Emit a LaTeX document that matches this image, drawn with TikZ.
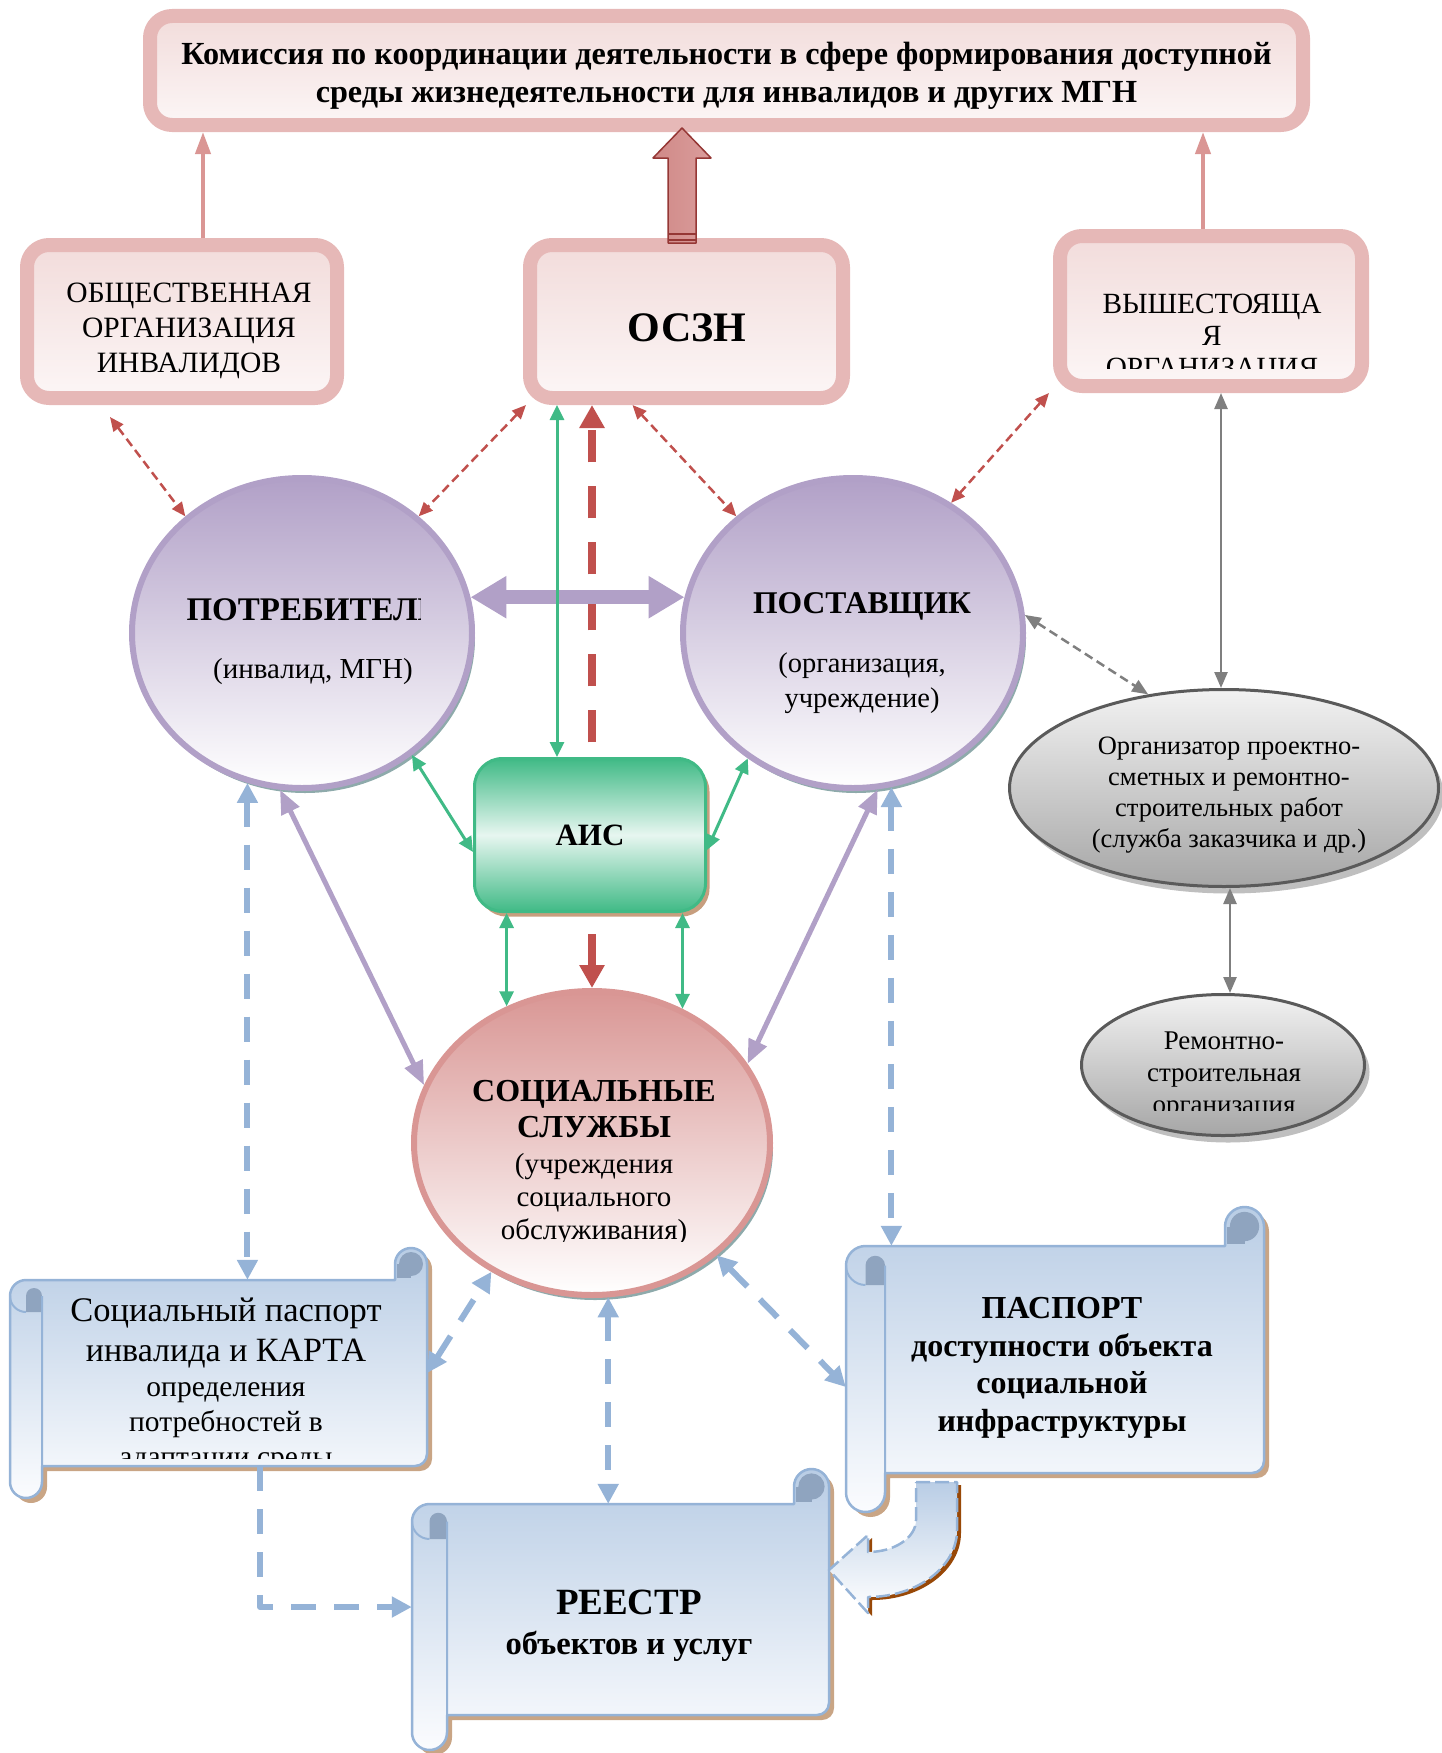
\documentclass[tikz,border=0pt]{standalone}
\usepackage{fontspec}
\setmainfont{Liberation Serif}
\usetikzlibrary{shapes.geometric,arrows.meta,shadows}

\definecolor{rozline}{HTML}{E6B8B7}
\definecolor{roztop}{HTML}{F2DCDB}
\definecolor{rozbot}{HTML}{FCF6F6}
\definecolor{rozarr}{HTML}{DA9694}
\definecolor{strel1}{HTML}{CF8987}
\definecolor{strel2}{HTML}{DB9D9C}
\definecolor{bordo}{HTML}{953735}
\definecolor{krasn}{HTML}{C0504D}
\definecolor{fiol}{HTML}{B1A0C7}
\definecolor{tenb}{HTML}{8EAAAB}
\definecolor{socline}{HTML}{D99694}
\definecolor{zel}{HTML}{40BA86}
\definecolor{zelsvet}{HTML}{E7F6F0}
\definecolor{korich}{HTML}{C79E7E}
\definecolor{sin}{HTML}{95B3D7}
\definecolor{sintop}{HTML}{B9CDE5}
\definecolor{sinbot}{HTML}{FBFCFE}
\definecolor{sincurl}{HTML}{8FA4BF}
\definecolor{tenkor}{HTML}{C9A585}
\definecolor{rzhav}{HTML}{984807}
\definecolor{ser}{HTML}{7F7F7F}
\definecolor{serdark}{HTML}{5A5A5A}
\definecolor{sertop}{HTML}{F2F2F2}
\definecolor{serbot}{HTML}{A6A6A6}
\definecolor{sershad}{HTML}{BFBFBF}

\newcommand\fsz[2]{\fontsize{#1}{#2}\selectfont}

% свиток: L R T B w
\newcommand\svitokpath{(\svL,\svB-\svC) -- (\svL,\svT+\svW+\svC) arc[start angle=180,end angle=270,radius=\svC] -- (\svR-\svW,\svT+\svW) -- (\svR-\svW,\svT+\svC) arc[start angle=180,end angle=360,radius=\svC] -- (\svR,\svB-\svW-12) arc[start angle=0,end angle=90,radius=12] -- (\svL+\svW,\svB-\svW) -- (\svL+\svW,\svB-\svC) arc[start angle=0,end angle=180,radius=\svC] -- cycle}
\newcommand\svitok[5]{%
  \pgfmathsetmacro\svL{#1}\pgfmathsetmacro\svR{#2}\pgfmathsetmacro\svT{#3}\pgfmathsetmacro\svB{#4}%
  \pgfmathsetmacro\svW{#5}\pgfmathsetmacro\svC{#5/2}%
  \fill[tenkor, shift={(5,5)}] \svitokpath;
  \path[top color=sintop, bottom color=sinbot] \svitokpath;
  \fill[sincurl] (\svL+\svC,\svT+\svW+\svC) arc[start angle=180,end angle=360,radius=\svC/2] -- (\svL+\svW,\svT+2*\svW) -- (\svL+\svC,\svT+2*\svW) -- cycle;
  \fill[sincurl] (\svR-\svC,\svT+\svC) circle[radius=0.75*\svC];
  \fill[sincurl] (\svR-\svW+2,\svT+\svC) rectangle (\svR-\svC,\svT+\svW-2);
  \draw[sin, line width=2.5pt] \svitokpath;
  \draw[sin, line width=2pt] (\svL+\svW,\svT+\svW+\svC) -- (\svL+\svW,\svB-\svW)
    (\svL+\svC,\svT+2*\svW) arc[start angle=90,end angle=180,radius=\svC];
}
\newcommand\gnutaya{(916,1482) -- (957,1482) -- (957,1530) arc[start angle=0,end angle=90,x radius=89,y radius=67] -- (868,1613) -- (829,1570) -- (868,1535) -- (868,1552) arc[start angle=90,end angle=0,x radius=48,y radius=32] -- cycle}

\tikzset{
  rozbox/.style={draw=rozline, line width=14pt, rounded corners=22pt, top color=roztop, bottom color=rozbot, inner sep=0pt},
  krug/.style={ellipse, draw=fiol, line width=6pt, top color=fiol, bottom color=white, inner sep=0pt, minimum width=340pt, minimum height=310pt,
    drop shadow={shadow xshift=3pt, shadow yshift=-5pt, fill=tenb, opacity=1}},
  sockrug/.style={krug, draw=socline, top color=socline, minimum width=356pt, minimum height=304pt},
  serkrug/.style={ellipse, draw=serdark, line width=3pt, top color=sertop, bottom color=serbot, inner sep=0pt,
    drop shadow={shadow xshift=5pt, shadow yshift=-7pt, fill=sershad, opacity=1}},
  aisbox/.style={draw=zel, line width=3pt, rounded corners=28pt, top color=zel, bottom color=zel, middle color=zelsvet,
    drop shadow={shadow xshift=4pt, shadow yshift=-5pt, fill=korich, opacity=1}},
  sheet/.style={inner sep=0pt, align=center},
  tekst/.style={inner sep=0pt, align=center},
  rozup/.style={draw=rozarr, line width=4pt, -{Triangle[length=22pt,width=15pt]}},
  redd/.style={draw=krasn, line width=2.5pt, dash pattern=on 9pt off 5pt, {Triangle[length=14pt,width=12pt]}-{Triangle[length=14pt,width=12pt]}},
  krasnd/.style={draw=krasn, line width=8pt, dash pattern=on 32pt off 24pt, {Triangle[length=23pt,width=24pt]}-{Triangle[length=23pt,width=24pt]}},
  zelarr/.style={draw=zel, line width=3pt, {Triangle[length=15pt,width=14pt]}-{Triangle[length=15pt,width=14pt]}},
  fiolbig/.style={draw=fiol, line width=14pt, {Triangle[length=36pt,width=40pt]}-{Triangle[length=36pt,width=40pt]}},
  fiolmid/.style={draw=fiol, line width=5pt, {Triangle[length=24pt,width=19pt]}-{Triangle[length=24pt,width=19pt]}},
  sinarr/.style={draw=sin, line width=6pt, dash pattern=on 25pt off 18pt, {Triangle[length=20pt,width=20pt]}-{Triangle[length=20pt,width=20pt]}},
  sinone/.style={draw=sin, line width=6pt, dash pattern=on 25pt off 18pt, -{Triangle[length=20pt,width=20pt]}},
  serarr/.style={draw=ser, line width=2.5pt, {Triangle[length=16pt,width=13pt]}-{Triangle[length=16pt,width=13pt]}},
  serd/.style={serarr, dash pattern=on 9pt off 5pt}
}

\begin{document}
\begin{tikzpicture}[x=1pt, y=-1pt, line join=round]
\useasboundingbox (0,0) rectangle (1442,1753);

% верхний ряд
\node[rozbox, minimum width=1153pt, minimum height=109pt] (komis) at (726.5,70.5) {};
\node[tekst, font=\fsz{32.2}{38}\bfseries] (komis-t) at (726.5,76)
  {Комиссия по координации деятельности в сфере формирования доступной\\среды жизнедеятельности для инвалидов и других МГН};
\node[rozbox, minimum width=310pt, minimum height=153pt] (obsh) at (182,321.5) {};
\node[tekst, font=\fsz{29.5}{35}] (obsh-t) at (189,331) {ОБЩЕСТВЕННАЯ\\ОРГАНИЗАЦИЯ\\ИНВАЛИДОВ};
\node[rozbox, minimum width=313pt, minimum height=153pt] (osz) at (686.5,321.5) {};
\node[tekst, font=\fsz{42}{48}\bfseries] (osz-t) at (687,328) {ОСЗН};
\node[rozbox, minimum width=302pt, minimum height=150pt] (vysh) at (1211,311) {};
\begin{scope}
  \clip (1070,250) rectangle (1352,368);
  \node[tekst, font=\fsz{29.3}{32}] (vysh-t) at (1212,339) {ВЫШЕСТОЯЩА\\Я\\ОРГАНИЗАЦИЯ};
\end{scope}

% стрелки вверх
\draw[rozup] ([xshift=21pt]obsh.north) -- ([xshift=21pt]obsh.north |- komis.south);
\draw[rozup] ([xshift=-8pt]vysh.north) -- ([xshift=-8pt]vysh.north |- komis.south);
\draw[bordo, line width=1.5pt, left color=strel1, right color=strel2]
  (668,243) -- (668,158) -- (653,158) -- (682,128) -- (711,158) -- (696,158) -- (696,243) -- cycle;
\draw[bordo, line width=2pt] (668,234) -- (696,234) (668,240) -- (696,240);

% эллипсы
\node[krug] (potr) at (302,633) {};
\begin{scope}
  \clip (130,480) rectangle (420,790);
  \node[tekst, font=\fsz{29}{34}] (potr-t) at (313,642) {{\fsz{33}{34}\bfseries ПОТРЕБИТЕЛЬ}\\[24pt](инвалид, МГН)};
\end{scope}
\node[krug] (post) at (853,633) {};
\node[tekst, font=\fsz{28.5}{35}] (post-t) at (862,653) {{\fsz{31.6}{35}\bfseries ПОСТАВЩИК}\\[24pt](организация,\\учреждение)};
\node[sockrug] (soc) at (592,1143) {};
\begin{scope}
  \clip (420,1000) rectangle (715,1241);
  \node[tekst, font=\fsz{29}{33}] (soc-t) at (594,1163)
    {{\fsz{32}{33}\bfseries СОЦИАЛЬНЫЕ}\\[3pt]{\fsz{32}{33}\bfseries СЛУЖБЫ}\\[3pt](учреждения\\социального\\обслуживания)};
\end{scope}
\node[serkrug, minimum width=429pt, minimum height=197pt] (org) at (1224,788) {};
\node[tekst, font=\fsz{26.5}{31}] (org-t) at (1229,795)
  {Организатор проектно-\\сметных и ремонтно-\\строительных работ\\(служба заказчика и др.)};
\node[serkrug, minimum width=283pt, minimum height=141pt] (rem) at (1223,1065) {};
\begin{scope}
  \clip (1090,1000) rectangle (1360,1110);
  \node[tekst, font=\fsz{27}{32}] (rem-t) at (1224,1076) {Ремонтно-\\строительная\\организация};
\end{scope}

% свитки
\svitok{10}{427}{1248}{1498}{32}
\svitok{846}{1264}{1207}{1512}{39}
\svitok{412}{829}{1469}{1750}{35}
\node[sheet, minimum width=417pt, minimum height=186pt] (sp) at (218.5,1373) {};
\begin{scope}
  \clip (44,1285) rectangle (425,1458);
  \node[tekst, font=\fsz{29.5}{35}] (sp-t) at (226,1385)
    {{\fsz{34.5}{35}Социальный паспорт}\\[5pt]{\fsz{34}{35}инвалида и КАРТА}\\определения\\потребностей в\\адаптации среды};
\end{scope}
\node[sheet, minimum width=432pt, minimum height=244pt, font=\fsz{32}{37.5}\bfseries] (pasp) at (1062,1368)
  {ПАСПОРТ\\доступности объекта\\социальной\\инфраструктуры};
\node[sheet, minimum width=434pt, minimum height=244pt, font=\fsz{32.6}{40}\bfseries] (reestr) at (629,1626)
  {{\fsz{37}{40}РЕЕСТР}\\объектов и услуг};
\fill[rzhav, shift={(4,3)}] \gnutaya;
\path[top color=sintop, bottom color=white] \gnutaya;
\draw[sin, line width=2.5pt, dash pattern=on 14pt off 5pt] \gnutaya;

% ОСЗН -- соц. службы (под АИС)
\draw[krasnd] (soc.north) -- (soc.north |- osz.south);
\node[aisbox, minimum width=231pt, minimum height=153pt, font=\fsz{31}{36}\bfseries] (ais) at (590,835) {АИС};

% связи
\draw[redd] ([xshift=-72pt,yshift=-12pt]obsh.south) -- (potr.135);
\draw[redd] ([xshift=3pt]osz.south west) -- (potr.45);
\draw[redd] ([xshift=-54pt]osz.south) -- (post.135);
\draw[redd] ([xshift=-4pt]vysh.south west) -- (post.53);
\draw[fiolbig] (potr.12) -- (post.168);
\draw[zelarr] ([xshift=-33pt]ais.north) -- ([xshift=-33pt]ais.north |- osz.south);
\draw[zelarr] (potr.-48) -- ([yshift=-17pt]ais.west);
\draw[zelarr] (post.230) -- ([yshift=-15pt]ais.east);
\draw[zelarr] (soc.122) -- (soc.122 |- ais.south);
\draw[zelarr] (soc.56) -- (soc.56 |- ais.south);
\draw[fiolmid] (potr.-98) -- (soc.161);
\draw[fiolmid] (post.-81) -- (soc.27);
\draw[sinarr] (potr.-110) -- (potr.-110 |- sp.north);
\draw[sinarr] (post.-76) -- (post.-76 |- pasp.north);
\draw[sinarr] (sp.east) -- (soc.-128);
\draw[sinarr] (soc.-84.5) -- (soc.-84.5 |- reestr.north);
\draw[sinarr] (soc.-42) -- ([yshift=-19pt]pasp.west);
\draw[sinone] ([xshift=41.5pt]sp.south) |- ([yshift=19pt]reestr.west);
\draw[serarr] ([xshift=-3pt]org.north) -- ([xshift=-3pt]org.north |- vysh.south);
\draw[serarr] ([xshift=6pt]org.south) -- ([xshift=6pt]org.south |- rem.north);
\draw[serd] (post.6) -- (org.129);
\end{tikzpicture}
\end{document}
